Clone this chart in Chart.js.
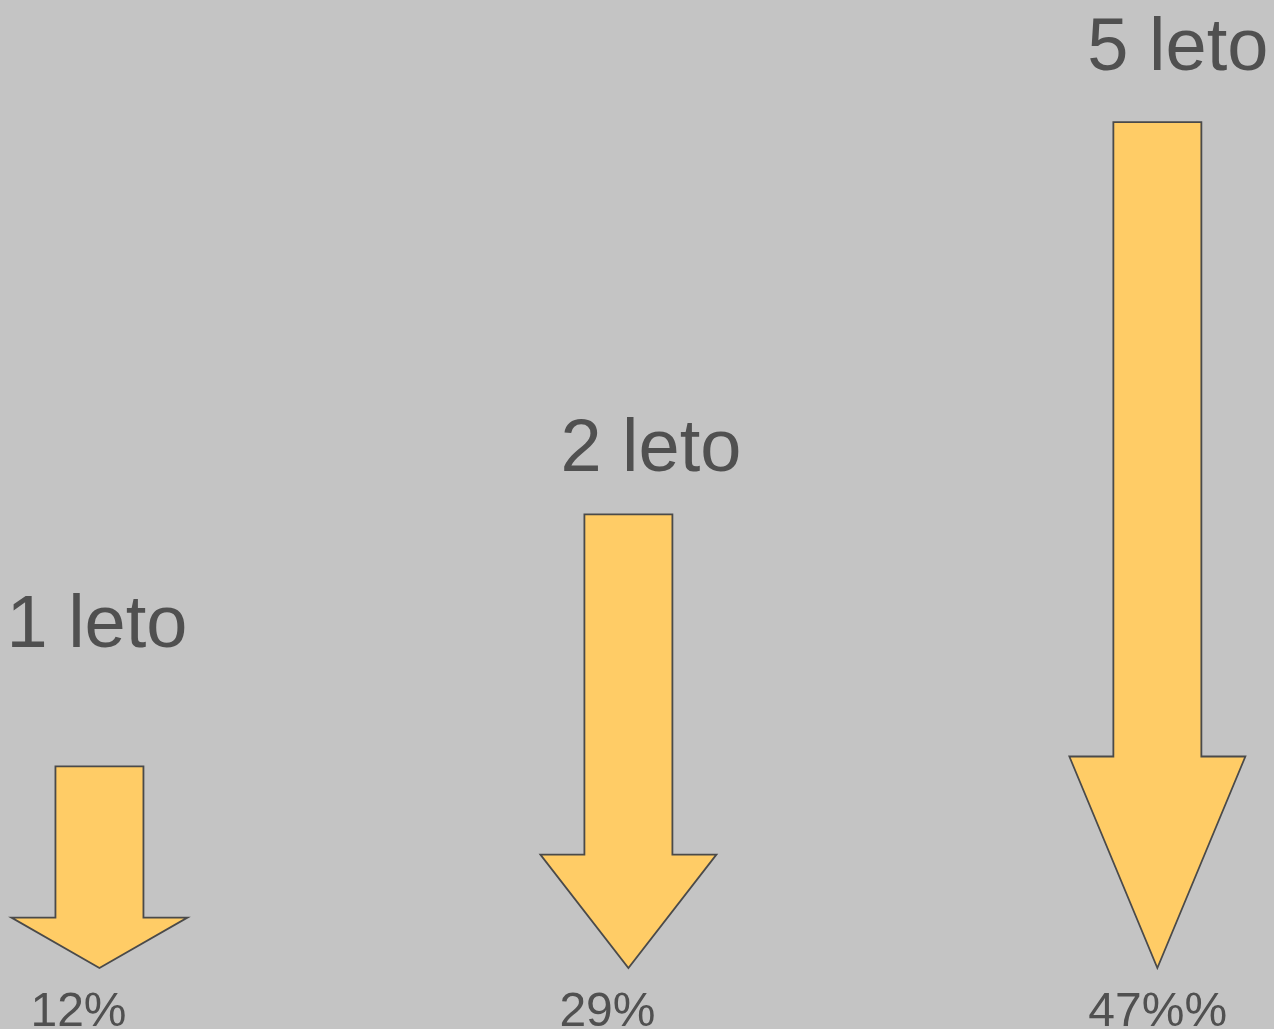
<!DOCTYPE html>
<html>
<head>
<meta charset="utf-8">
<script src="https://cdn.jsdelivr.net/npm/chart.js@4.4.0/dist/chart.umd.min.js"></script>
<style>
html, body { margin: 0; padding: 0; background: #c4c4c4; }
canvas { display: block; }
</style>
</head>
<body>
<canvas id="arrowChart" width="1274" height="1029"></canvas>
<script>
var periods = ['1 leto', '2 leto', '5 leto'];
var percentLabels = ['12%', '29%', '47%%'];
var arrowLengths = [11.2, 25.2, 47];

// draws each bar as a down arrow, tip at the zero line
var arrowPlugin = {
    id: 'arrows',
    afterDatasetsDraw: function(chart, args, opts) {
        var ctx = chart.ctx;
        var meta = chart.getDatasetMeta(0);
        var zeroY = chart.scales.y.getPixelForValue(0);
        meta.data.forEach(function(bar, i) {
            var cx = bar.x;
            var top = bar.y;
            var headH = (zeroY - top) * 0.25;
            var sw = opts.shaftWidth / 2;
            var hw = opts.headWidth / 2;

            ctx.save();
            ctx.beginPath();
            ctx.moveTo(cx - sw, top);
            ctx.lineTo(cx + sw, top);
            ctx.lineTo(cx + sw, zeroY - headH);
            ctx.lineTo(cx + hw, zeroY - headH);
            ctx.lineTo(cx, zeroY);
            ctx.lineTo(cx - hw, zeroY - headH);
            ctx.lineTo(cx - sw, zeroY - headH);
            ctx.closePath();
            ctx.fillStyle = opts.fill;
            ctx.fill();
            ctx.lineWidth = 1.8;
            ctx.lineJoin = 'miter';
            ctx.strokeStyle = opts.stroke;
            ctx.stroke();

            ctx.fillStyle = opts.textColor;
            ctx.textAlign = 'left';
            ctx.textBaseline = 'alphabetic';
            ctx.font = '74px "Liberation Sans", Arial, sans-serif';
            ctx.fillText(periods[i], cx + opts.titleShift[i], top - opts.titleGap[i]);
            ctx.font = '48px "Liberation Sans", Arial, sans-serif';
            ctx.fillText(percentLabels[i], cx - 69, zeroY + 58);
            ctx.restore();
        });
    }
};

var ctx = document.getElementById('arrowChart').getContext('2d');
new Chart(ctx, {
    type: 'bar',
    data: {
        datasets: [{
            label: 'Arrows',
            data: arrowLengths.map(function(v, i) { return { x: i, y: v }; }),
            backgroundColor: 'rgba(0,0,0,0)',
            borderWidth: 0
        }]
    },
    options: {
        responsive: false,
        animation: false,
        devicePixelRatio: 1,
        layout: { padding: 0 },
        plugins: {
            legend: { display: false },
            tooltip: { enabled: false },
            arrows: {
                shaftWidth: 88,
                headWidth: 176,
                fill: '#ffcc66',
                stroke: '#4a4a4a',
                textColor: '#505050',
                titleShift: [-93, -68, -70],
                titleGap: [119, 43, 52]
            }
        },
        scales: {
            x: { type: 'linear', display: false, offset: false, min: -0.188, max: 2.2205 },
            y: { display: false, min: -3.39, max: 53.78 }
        }
    },
    plugins: [arrowPlugin]
});
</script>
</body>
</html>
